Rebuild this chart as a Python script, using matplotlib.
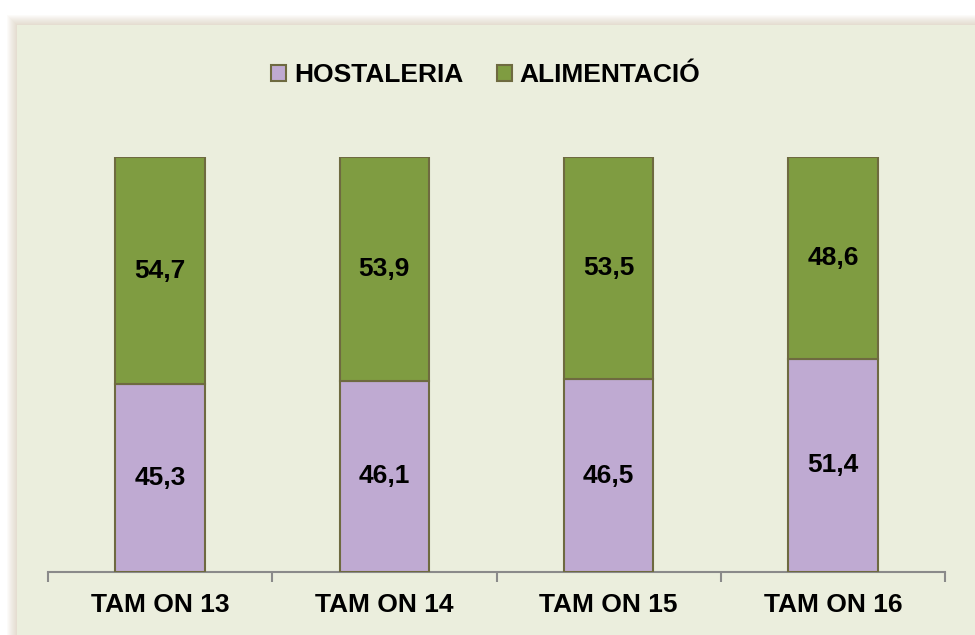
import matplotlib
matplotlib.use("Agg")
import matplotlib.pyplot as plt
from matplotlib.patches import Rectangle
import numpy as np

categories = ["TAM ON 13", "TAM ON 14", "TAM ON 15", "TAM ON 16"]
hostaleria = [45.3, 46.1, 46.5, 51.4]
alimentacio = [54.7, 53.9, 53.5, 48.6]
series_names = ["HOSTALERIA", "ALIMENTACIÓ"]

plt.rcParams['font.family'] = ['Liberation Sans', 'DejaVu Sans']

W, H = 975, 635
fig = plt.figure(figsize=(W / 100, H / 100), dpi=100)
fig.patch.set_facecolor("white")

# panel with soft shadow
px0, py0 = 17, 25  # top-left in pixels
for i in range(10, 0, -1):
    fig.patches.append(Rectangle(((px0 - i) / W, 0), 1.2, 1 - (py0 - i) / H,
                                 transform=fig.transFigure,
                                 facecolor="#C8B89A", alpha=0.05, edgecolor="none", zorder=0))
fig.patches.append(Rectangle((px0 / W, 0), 1.2, 1 - py0 / H, transform=fig.transFigure,
                             facecolor="#EBEEDD", edgecolor="none", zorder=0.5))

left, right = 48 / W, 945 / W
bottom, top = 1 - 572 / H, 1 - 157 / H
ax = fig.add_axes([left, bottom, right - left, top - bottom])
ax.set_facecolor("none")
ax.set_zorder(2)

x = np.arange(len(categories))
purple = "#BFAAD2"
green = "#7F9C41"
edge = "#6E6A40"
w = 0.4
b1 = ax.bar(x, hostaleria, width=w, color=purple, edgecolor=edge, linewidth=1.5, label=series_names[0], zorder=3)
b2 = ax.bar(x, alimentacio, width=w, bottom=hostaleria, color=green, edgecolor=edge, linewidth=1.5, label=series_names[1], zorder=3)

for xi, h, a in zip(x, hostaleria, alimentacio):
    ax.text(xi, h / 2, f"{h:.1f}".replace(".", ","), ha="center", va="center",
            fontsize=19, fontweight="bold", color="black", zorder=4)
    ax.text(xi, h + a / 2, f"{a:.1f}".replace(".", ","), ha="center", va="center",
            fontsize=19, fontweight="bold", color="black", zorder=4)

ax.set_xlim(-0.5, len(categories) - 0.5)
ax.set_ylim(0, 100)
for s in ["top", "left", "right"]:
    ax.spines[s].set_visible(False)
ax.spines["bottom"].set_color("#8A8A8A")
ax.spines["bottom"].set_linewidth(1.5)
ax.set_yticks([])
ax.set_xticks(x)
ax.set_xticklabels(categories, fontsize=19, fontweight="bold")
ax.tick_params(axis="x", which="major", length=0, pad=15)
ax.set_xticks(np.arange(-0.5, len(categories), 1.0), minor=True)
ax.tick_params(axis="x", which="minor", length=7, width=1.5, color="#8A8A8A", direction="out")

leg = fig.legend(handles=[b1, b2], labels=series_names, loc="center",
                 bbox_to_anchor=(486 / W, 1 - 75 / H), ncol=2, frameon=False,
                 handlelength=0.55, handleheight=0.55, handletextpad=0.3,
                 columnspacing=1.3, prop={"weight": "bold", "size": 19})
leg.set_zorder(3)

fig.savefig("out.png", dpi=100, facecolor=fig.get_facecolor())
